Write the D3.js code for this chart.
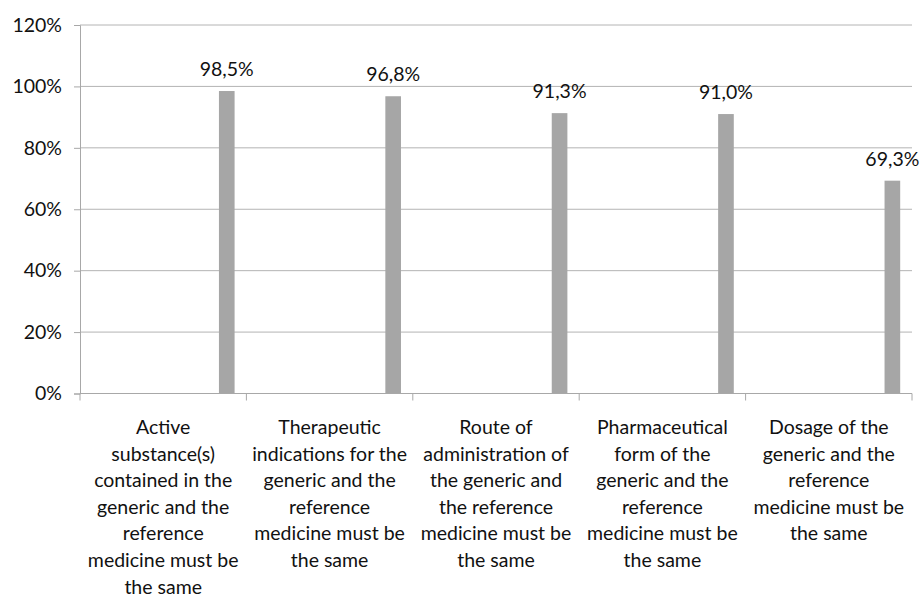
<!DOCTYPE html>
<html>
<head>
<meta charset="utf-8">
<script src="https://cdnjs.cloudflare.com/ajax/libs/d3/7.8.5/d3.min.js"></script>
<style>
  body { margin: 0; background: #fff; }
  text { font-family: Lato, "Open Sans", sans-serif; fill: #111; }
</style>
</head>
<body>
<svg id="chart" width="920" height="597"></svg>
<script>
// categories (line breaks as in the original labels)
const categories = [
  "Active\nsubstance(s)\ncontained in the\ngeneric and the\nreference\nmedicine must be\nthe same",
  "Therapeutic\nindications for the\ngeneric and the\nreference\nmedicine must be\nthe same",
  "Route of\nadministration of\nthe generic and\nthe reference\nmedicine must be\nthe same",
  "Pharmaceutical\nform of the\ngeneric and the\nreference\nmedicine must be\nthe same",
  "Dosage of the\ngeneric and the\nreference\nmedicine must be\nthe same"
];
const values = [98.5, 96.8, 91.3, 91.0, 69.3];
const yTicks = [0, 20, 40, 60, 80, 100, 120];

const svg = d3.select("#chart");
const plotLeft = 80, plotRight = 912, plotTop = 25, plotBottom = 393.5;
const fontSize = "19.5px";

const x = d3.scaleBand()
  .domain(categories)
  .range([plotLeft, plotRight]);

const y = d3.scaleLinear()
  .domain([0, 120])
  .range([plotBottom, plotTop]);

const bw = x.bandwidth();
const barOffset = bw * 0.835;
const barWidth = bw * 0.094;

// gridlines
svg.append("g")
  .selectAll("line")
  .data(yTicks.filter(d => d > 0))
  .enter().append("line")
  .attr("x1", plotLeft).attr("x2", plotRight)
  .attr("y1", d => y(d)).attr("y2", d => y(d))
  .style("stroke", "#b4b4b4")
  .style("stroke-width", 1);

// y axis
const yAxis = svg.append("g")
  .attr("transform", `translate(${plotLeft},0)`)
  .call(d3.axisLeft(y).tickValues(yTicks).tickSize(6).tickPadding(12)
    .tickFormat(d => d + "%"));
yAxis.select(".domain").style("stroke", "#a8a8a8");
yAxis.selectAll(".tick line").style("stroke", "#a8a8a8");
yAxis.selectAll(".tick text")
  .style("font-size", fontSize)
  .style("font-family", "Lato, 'Open Sans', sans-serif")
  .style("fill", "#111");

// bars
svg.append("g")
  .selectAll("rect")
  .data(values)
  .enter().append("rect")
  .attr("x", (d, i) => x(categories[i]) + barOffset)
  .attr("width", barWidth)
  .attr("y", d => y(d))
  .attr("height", d => y(0) - y(d))
  .style("fill", "#a6a6a6");

// value labels
svg.append("g")
  .selectAll("text")
  .data(values)
  .enter().append("text")
  .attr("x", (d, i) => x(categories[i]) + barOffset + barWidth / 2)
  .attr("y", d => y(d) - 15)
  .attr("text-anchor", "middle")
  .style("font-size", fontSize)
  .text(d => d.toFixed(1).replace(".", ",") + "%");

// x axis line and boundary ticks
svg.append("line")
  .attr("x1", plotLeft).attr("x2", plotRight)
  .attr("y1", plotBottom).attr("y2", plotBottom)
  .style("stroke", "#a8a8a8");

const bounds = categories.map(c => x(c)).concat([plotRight]);
svg.append("g")
  .selectAll("line")
  .data(bounds)
  .enter().append("line")
  .attr("x1", d => d).attr("x2", d => d)
  .attr("y1", plotBottom).attr("y2", plotBottom + 7)
  .style("stroke", "#a8a8a8");

// category labels
const labels = svg.append("g")
  .selectAll("text")
  .data(categories)
  .enter().append("text")
  .attr("text-anchor", "middle")
  .attr("x", d => x(d) + bw / 2)
  .attr("y", 434)
  .style("font-size", fontSize);

labels.each(function(d) {
  const t = d3.select(this);
  d.split("\n").forEach((line, i) => {
    t.append("tspan")
      .attr("x", x(d) + bw / 2)
      .attr("dy", i === 0 ? 0 : 26.6)
      .text(line);
  });
});
</script>
</body>
</html>
